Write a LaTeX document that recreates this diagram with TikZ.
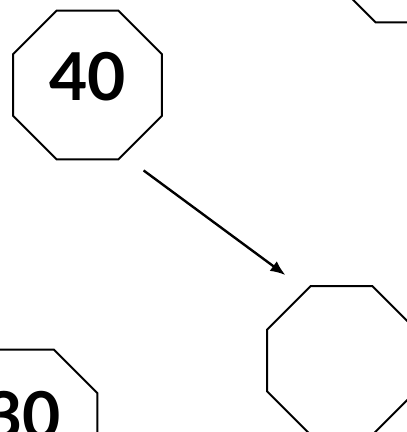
\documentclass[tikz,border=0pt]{standalone}
\usepackage{fontspec}
\setmainfont{Lato}
\usetikzlibrary{shapes.geometric,arrows.meta}
\begin{document}
\begin{tikzpicture}[x=1pt,y=1pt,
  oct/.style={regular polygon, regular polygon sides=8, draw, line width=2pt,
    minimum size=161pt, inner sep=0pt, font=\fontsize{66}{66}\selectfont\bfseries, text depth=18pt}]
\useasboundingbox (0,0) rectangle (407,432);
\node[oct] (oct40) at (87.5,347){40};
\node[oct] (oct1) at (406.5,484){};
\node[oct] (oct2) at (341.5,71.5){};
\node[oct] (oct30) at (23,8){30};
\draw[line width=2.4pt, -{Latex[length=15pt,width=12pt]}, shorten <=25pt, shorten >=25pt](oct40.-63) -- (oct2.117);

\end{tikzpicture}
\end{document}
